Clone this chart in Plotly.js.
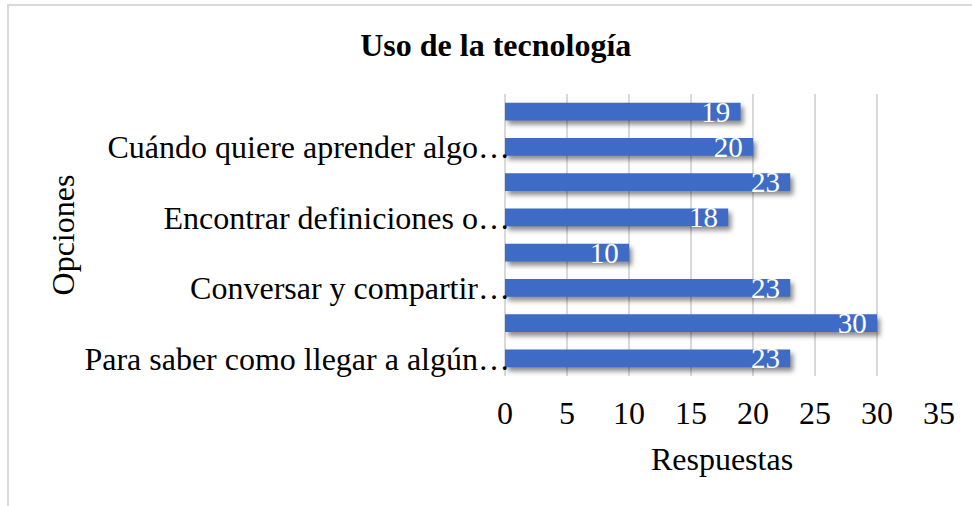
<!DOCTYPE html>
<html>
<head>
<meta charset="utf-8">
<script src="https://cdn.plot.ly/plotly-3.0.1.min.js"></script>
<style>
  html, body { margin: 0; padding: 0; background: #fff; overflow: hidden; }
  #chart { width: 972px; height: 506px; }
  #frame { position: absolute; left: 7px; top: 4px; width: 1000px; height: 600px;
           border-left: 2px solid #d9d9d9; border-top: 2px solid #d9d9d9; pointer-events: none; }
  .bars path { filter: drop-shadow(3px 4px 2.5px rgba(0,0,0,0.45)); }
</style>
</head>
<body>
<div id="chart"></div>
<div id="frame"></div>
<script>
// Categories bottom-to-top (hidden labels in the original are unknown)
const categories = [
  "Para saber como llegar a algún…",
  "Opción 2",
  "Conversar y compartir…",
  "Opción 4",
  "Encontrar definiciones o…",
  "Opción 6",
  "Cuándo quiere aprender algo…",
  "Opción 8"
];
const values = [23, 30, 23, 10, 18, 23, 20, 19];
const shownLabels = [
  "Para saber como llegar a algún…",
  "Conversar y compartir…",
  "Encontrar definiciones o…",
  "Cuándo quiere aprender algo…"
];
const xTicks = [0, 5, 10, 15, 20, 25, 30, 35];

const font = "Liberation Serif, Times New Roman, serif";

const trace = {
  type: "bar",
  orientation: "h",
  y: categories,
  x: values,
  width: 0.5,
  marker: { color: "#3e6bc5" },
  texttemplate: "%{x}\u00a0",
  textposition: "inside",
  insidetextanchor: "end",
  textangle: 0,
  constraintext: "none",
  textfont: { family: font, size: 29, color: "#ffffff" },
  cliponaxis: false,
  hoverinfo: "x+y"
};

const layout = {
  width: 972, height: 506,
  margin: { l: 505, r: 33, t: 94, b: 130 },
  paper_bgcolor: "#ffffff",
  plot_bgcolor: "#ffffff",
  showlegend: false,
  title: {
    text: "<b>Uso de la tecnología</b>",
    font: { family: font, size: 32, color: "#000000" },
    xref: "container", x: 0.51, xanchor: "center",
    yref: "container", y: 0.911, yanchor: "middle"
  },
  xaxis: {
    range: [0, 35],
    tickvals: xTicks,
    ticktext: xTicks.map(String),
    showgrid: true, gridcolor: "#d9d9d9", gridwidth: 1.5,
    zeroline: true, zerolinecolor: "#d9d9d9", zerolinewidth: 1.5,
    showline: false,
    ticks: "",
    ticklabelstandoff: 15,
    tickfont: { family: font, size: 32, color: "#000000" },
    title: { text: "Respuestas", font: { family: font, size: 32, color: "#000000" }, standoff: 17 },
    fixedrange: true
  },
  yaxis: {
    type: "category",
    categoryorder: "array",
    categoryarray: categories,
    tickvals: shownLabels,
    ticktext: shownLabels,
    showgrid: false, zeroline: false, showline: false,
    ticks: "",
    ticklabelstandoff: -6,
    tickfont: { family: font, size: 32, color: "#000000" },
    title: { text: "Opciones", font: { family: font, size: 32, color: "#000000" }, standoff: 0 },
    automargin: false,
    fixedrange: true
  }
};

Plotly.newPlot("chart", [trace], layout, { displayModeBar: false, staticPlot: true });
</script>
</body>
</html>
